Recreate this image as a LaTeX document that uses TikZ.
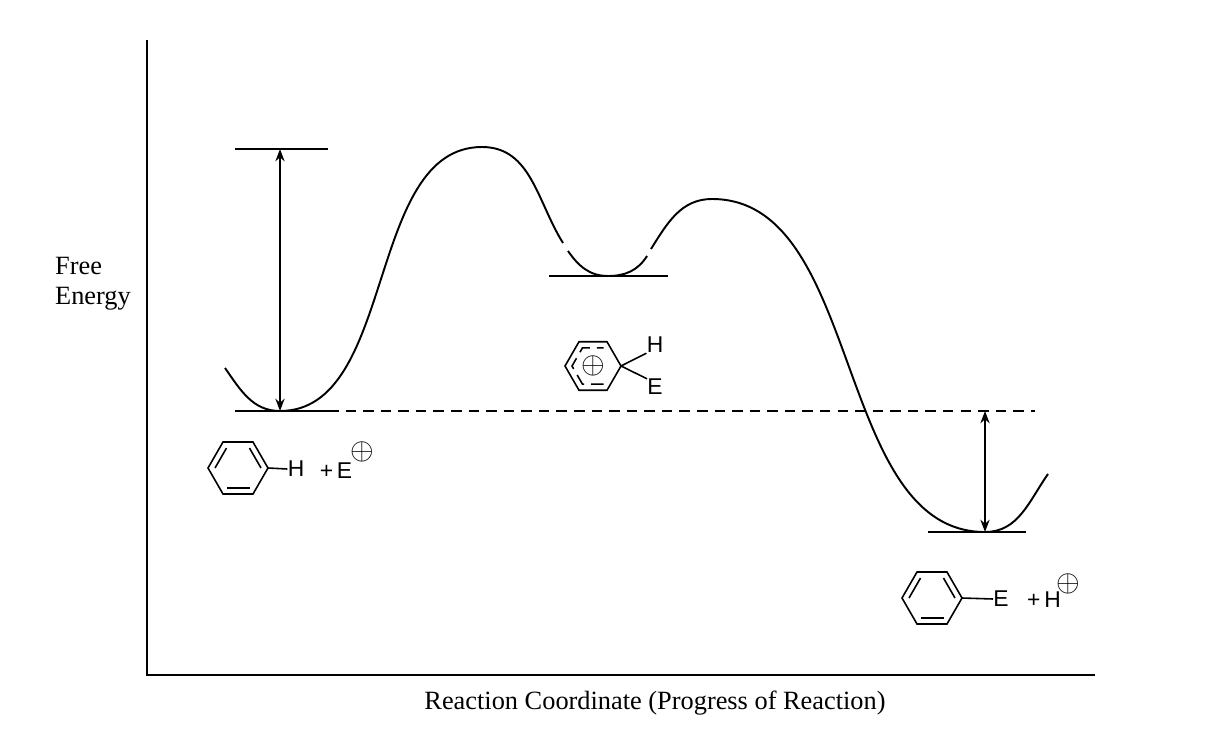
\documentclass[tikz,border=0pt]{standalone}
\usepackage{fontspec}
\setmainfont{Liberation Serif}
\newfontfamily\chemfont{Liberation Sans}
\usetikzlibrary{positioning, arrows.meta, calc}

\begin{document}
\begin{tikzpicture}[x=0.02cm, y=-0.02cm,
      % compact styles
      level/.style={line width=0.9pt},
      curve/.style={line width=1.1pt},
      arrow/.style={{Stealth[length=7pt]}-{Stealth[length=7pt]}, line width=0.9pt},
      chem/.style={font=\chemfont\fontsize{13}{13}\selectfont, inner sep=0pt},
      ring/.style={line width=0.9pt},
      lbl/.style={font=\fontsize{15}{17}\selectfont, align=left}
    ]
    \useasboundingbox (0,0) rectangle (1214,754);

    % Axes
    \coordinate (ytop) at (147,40);
    \coordinate (orig) at (147,675);
    \coordinate (xend) at (1095,675);
    \draw[line width=0.9pt] (ytop) -- (orig) -- (xend);
    \node[lbl] (ylabel) at (93,284) {Free\\Energy};
    \node[lbl] (xlabel) at (655,703) {Reaction Coordinate (Progress of Reaction)};

    % Energy levels
    \coordinate (ts1L) at (235,149); \coordinate (ts1R) at (328,149);
    \coordinate (reL) at (235,411);  \coordinate (reR) at (328,411);
    \coordinate (dashE) at (1035,411);
    \coordinate (imL) at (549,276);  \coordinate (imR) at (668,276);
    \coordinate (prL) at (928,532);  \coordinate (prR) at (1026,532);
    \draw[level] (ts1L) -- (ts1R);
    \draw[level] (reL) -- (reR);
    \draw[level, dashed, dash pattern=on 6pt off 4pt] (reR) -- (dashE);
    \draw[level] (imL) -- (imR);
    \draw[level] (prL) -- (prR);

    % Arrows
    \coordinate (a1t) at (280,149); \coordinate (a1b) at (280,411);
    \coordinate (a2t) at (985,411); \coordinate (a2b) at (985,532);
    \draw[arrow] (a1t) -- (a1b);
    \draw[arrow] (a2t) -- (a2b);

    % Reaction profile
    \draw[curve] (225,368) to[out=-55,in=180] (280,411)
                 to[out=0,in=180,looseness=0.9] (482,147)
                 to[out=0,in=122] (563,243);
    \draw[curve] (568,251) to[out=-55,in=180] (608,276) to[out=0,in=-122] (647,256);
    \draw[curve] (651,249) to[out=58,in=180] (712,199)
                 to[out=0,in=180,looseness=0.9] (985,532)
                 to[out=0,in=-125] (1048,474);

    % Reactant: benzene + E+
    \coordinate (bz1) at (238,468);
    \draw[ring] (bz1) ++(0:30) \foreach \a in {60,120,...,360} { -- ++(\a+60:30) } -- cycle;
    \foreach \a in {60,180,300}
      \draw[ring] ($(bz1)+(\a:23)$) -- ($(bz1)+(\a+60:23)$);
    \node[chem] (h1) at (296,469) {H};
    \draw[ring] ($(bz1)+(0:30)$) -- (h1.west);
    \node[chem] (e1) at (336,471) {+\,E};
    \node[chem, font=\chemfont\fontsize{17}{17}\selectfont] (p1) at (362,452) {$\oplus$};

    % Intermediate: arenium ion
    \coordinate (bz2) at (593,366);
    \draw[ring] (bz2) ++(0:28) \foreach \a in {60,120,...,360} { -- ++(\a+60:28) } -- cycle;
    \draw[ring, dash pattern=on 7pt off 4pt] ($(bz2)+(60:21)$) -- ($(bz2)+(120:21)$)
        -- ($(bz2)+(180:21)$) -- ($(bz2)+(240:21)$) -- ($(bz2)+(300:21)$);
    \node[chem, font=\chemfont\fontsize{17}{17}\selectfont] (p2) at (593,366) {$\oplus$};
    \node[chem] (h2) at (655,345) {H};
    \node[chem] (e2) at (655,387) {E};
    \draw[ring] ($(bz2)+(0:28)$) -- (h2.south west);
    \draw[ring] ($(bz2)+(0:28)$) -- (e2.north west);

    % Product: substituted benzene + H+
    \coordinate (bz3) at (932,598);
    \draw[ring] (bz3) ++(0:30) \foreach \a in {60,120,...,360} { -- ++(\a+60:30) } -- cycle;
    \foreach \a in {60,180,300}
      \draw[ring] ($(bz3)+(\a:23)$) -- ($(bz3)+(\a+60:23)$);
    \node[chem] (e3) at (1001,599) {E};
    \draw[ring] ($(bz3)+(0:30)$) -- (e3.west);
    \node[chem] (h3) at (1044,600) {+\,H};
    \node[chem, font=\chemfont\fontsize{17}{17}\selectfont] (p3) at (1068,584) {$\oplus$};
\end{tikzpicture}
\end{document}
